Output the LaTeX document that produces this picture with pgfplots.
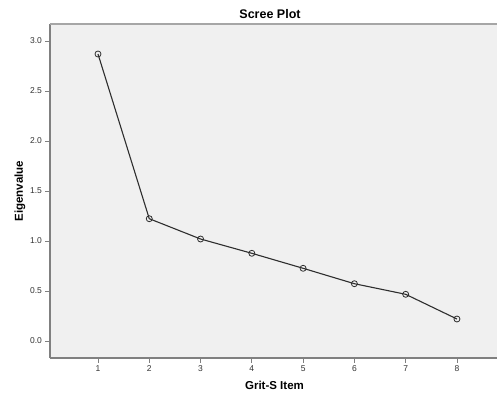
\documentclass[border=0pt]{standalone}
\usepackage{fontspec}
\setmainfont{Liberation Sans}
\usepackage{pgfplots}
\pgfplotsset{compat=1.18}
\definecolor{bg}{HTML}{F0F0F0}
\definecolor{axgray}{HTML}{808080}
\definecolor{ln}{HTML}{2E2E2E}
\begin{document}
\begin{tikzpicture}
\begin{axis}[
  at={(0pt,0pt)}, anchor=south west,
  scale only axis, width=449pt, height=334pt,
  xmin=0.064, xmax=8.82, ymin=-0.17, ymax=3.17,
  axis x line*=bottom, axis y line*=left,
  axis line style={axgray, line width=1.6pt},
  axis background/.style={fill=bg, draw=none},
  xtick={1,...,8}, ytick={0,0.5,1,1.5,2,2.5,3},
  /pgf/number format/assume math mode=true,
  yticklabel style={/pgf/number format/.cd,fixed,fixed zerofill,precision=1},
  ticklabel style={font=\fontsize{8.5}{10}\selectfont, text=black!80},
  tick style={axgray, line width=0.8pt},
  major tick length=4.5pt,
  tick align=outside,
  title={\bfseries Scree Plot},
  title style={font=\fontsize{12.5}{14}\selectfont, at={(0.49,1)}, yshift=-4pt},
  xlabel={\bfseries Grit-S Item},
  ylabel={\bfseries Eigenvalue},
  label style={font=\fontsize{11.5}{13}\selectfont},
  xlabel style={yshift=-2pt},
  ylabel style={yshift=-2pt},
  clip=false,
]
\draw[axgray!70, line width=1.2pt] (rel axis cs:0,1) -- (rel axis cs:1,1);
\addplot[ln, line width=1.1pt, mark=o, mark size=3pt, mark options={line width=0.8pt, ln}] coordinates {
  (1,2.87) (2,1.223) (3,1.02) (4,0.877) (5,0.727) (6,0.573) (7,0.467) (8,0.22)
};
\end{axis}
\pgfresetboundingbox
\path (-50pt,-42pt) rectangle (447pt,358pt);
\end{tikzpicture}
\end{document}
